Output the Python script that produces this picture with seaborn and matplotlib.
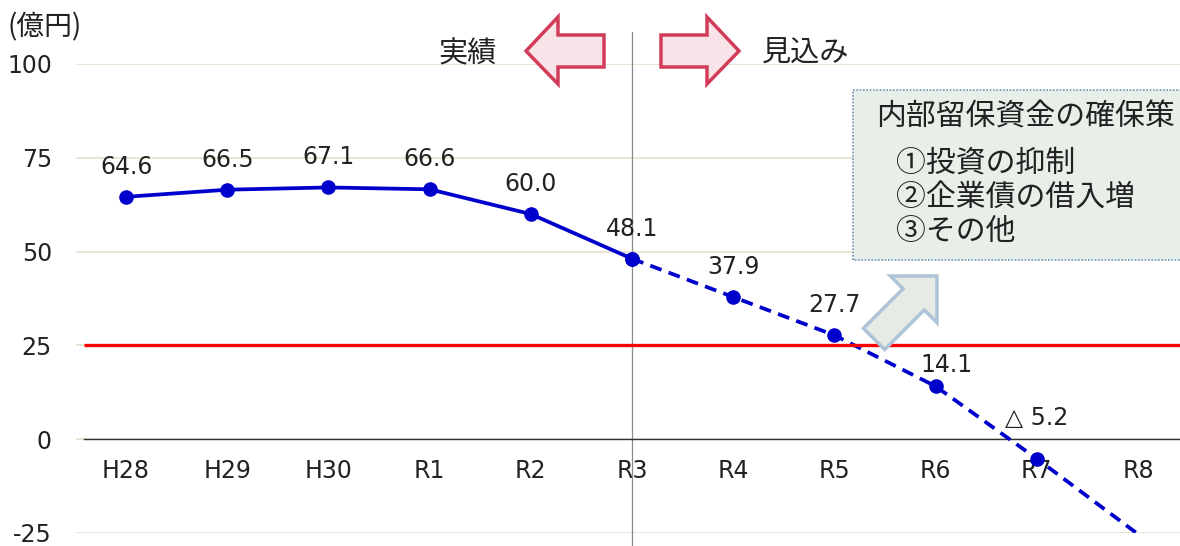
import numpy as np
import pandas as pd
import matplotlib
matplotlib.use("Agg")
import matplotlib.pyplot as plt
from matplotlib.patches import Polygon, Rectangle
from matplotlib.transforms import Affine2D
import seaborn as sns

# 内部留保資金の推移（億円）
fiscal_years = ["H28", "H29", "H30", "R1", "R2", "R3", "R4", "R5", "R6", "R7", "R8"]
retained_funds = [64.6, 66.5, 67.1, 66.6, 60.0, 48.1, 37.9, 27.7, 14.1, -5.2, -25.3]
last_actual = "R3"
reserve_floor = 25
y_ticks = [-25, 0, 25, 50, 75, 100]
unit_label = "(億円)"
actual_label = "実績"
forecast_label = "見込み"
box_title = "内部留保資金の確保策"
box_items = ["①投資の抑制", "②企業債の借入増", "③その他"]

sns.set_theme(style="white")
plt.rcParams["font.family"] = ["DejaVu Sans", "Noto Sans CJK JP"]
plt.rcParams["axes.unicode_minus"] = False
JP = ["Noto Sans CJK JP", "DejaVu Sans"]
TXT = "#222222"

W, H, DPI = 1180, 546, 100
fig = plt.figure(figsize=(W / DPI, H / DPI), dpi=DPI)
fig.patch.set_facecolor("white")
# pixel coordinates measured from the top-left corner of the figure
px = Affine2D().scale(1 / DPI, -1 / DPI).translate(0, H / DPI) + fig.dpi_scale_trans

ax_left, ax_top, ax_bottom = 75.5, 64, 533
ax = fig.add_axes([ax_left / W, (H - ax_bottom) / H, 1 - ax_left / W, (ax_bottom - ax_top) / H])
ax.set_facecolor("white")

df = pd.DataFrame({"year": fiscal_years, "value": retained_funds})
df["pos"] = np.arange(len(df))
split = fiscal_years.index(last_actual)
actual = df.iloc[: split + 1]
forecast = df.iloc[split:]

blue = "#0000cc"
sns.lineplot(data=actual, x="pos", y="value", ax=ax, color=blue, lw=2.7,
             marker="o", markersize=10.5, markeredgewidth=0, zorder=4)
sns.lineplot(data=forecast, x="pos", y="value", ax=ax, color=blue, lw=2.7,
             linestyle=(0, (3.2, 2.0)), marker="o", markersize=10.5, markeredgewidth=0,
             markevery=list(range(len(forecast) - 1)), zorder=4)

x_right = 10.415
ax.set_xlim(-0.5, x_right)
ax.set_ylim(y_ticks[0], y_ticks[-1])

# value labels
label_shift = {"R6": (11, 21), "R7": (0, 41)}
for year, value, pos in zip(df["year"], df["value"], df["pos"]):
    if value < y_ticks[0]:
        continue
    text = f"{value:.1f}" if value >= 0 else f"△ {abs(value):.1f}"
    dx, dy = label_shift.get(year, (0, 30))
    ax.annotate(text, (pos, value), xytext=(dx * 0.72, dy * 0.72), textcoords="offset points",
                ha="center", va="center", fontsize=17, color=TXT, zorder=6)

# reference line
ax.hlines(reserve_floor, -0.42, x_right, color="#ff0000", lw=2.4, zorder=5)

# actual / forecast divider
ax.axvline(split, ymin=-(H - ax_bottom) / (ax_bottom - ax_top),
           ymax=(ax_bottom - 32) / (ax_bottom - ax_top),
           color="#8a8a8a", lw=0.9, clip_on=False, zorder=3)

# axes styling
for side in ["left", "right", "top"]:
    ax.spines[side].set_visible(False)
ax.spines["bottom"].set_position(("data", 0))
ax.spines["bottom"].set_bounds(-0.42, x_right)
ax.spines["bottom"].set_color("#333333")
ax.spines["bottom"].set_linewidth(1.0)
ax.spines["bottom"].set_zorder(3)

ax.set_xticks(df["pos"], fiscal_years)
ax.set_yticks(y_ticks)
ax.tick_params(axis="x", length=0, pad=14, labelsize=17, labelcolor=TXT)
ax.tick_params(axis="y", length=0, pad=17, labelsize=17, labelcolor=TXT)
ax.set_xlabel("")
ax.set_ylabel("")
ax.grid(axis="y", color="#e4e4d0", lw=1.3)
ax.grid(axis="x", visible=False)
ax.set_axisbelow(True)

# unit label
fig.text(7, 27, unit_label, transform=px, ha="left", va="center", fontsize=20,
         family=JP, color=TXT)

# 実績 / 見込み arrows
arrow_edge, arrow_fill = "#d23c58", "#f8e4e8"
left_arrow = [(526, 51), (558, 17), (558, 35), (604, 35), (604, 67), (558, 67), (558, 84)]
right_arrow = [(739, 51), (707, 17), (707, 35), (661, 35), (661, 67), (707, 67), (707, 84)]
for pts in (left_arrow, right_arrow):
    fig.add_artist(Polygon(pts, closed=True, transform=px, facecolor=arrow_fill,
                           edgecolor=arrow_edge, lw=2.5, joinstyle="miter", zorder=5))
fig.text(468, 54, actual_label, transform=px, ha="center", va="center", fontsize=21,
         family=JP, color=TXT)
fig.text(806, 54, forecast_label, transform=px, ha="center", va="center", fontsize=21,
         family=JP, color=TXT)

# measures box
fig.add_artist(Rectangle((853, 90), 345, 170, transform=px, facecolor="#e8eee8",
                         edgecolor="#6f93b5", lw=1.2, linestyle=(0, (1, 1)), zorder=5))
fig.text(876, 117, box_title, transform=px, ha="left", va="center", fontsize=21.5,
         family=JP, color=TXT, zorder=6)
for i, item in enumerate(box_items):
    fig.text(896, 163 + i * 34.5, item, transform=px, ha="left", va="center", fontsize=21.5,
             family=JP, color=TXT, zorder=6)

# diagonal block arrow pointing to the box
tip = np.array([937.0, 276.0])
d = np.array([1.0, -1.0]) / np.sqrt(2)
n = np.array([1.0, 1.0]) / np.sqrt(2)
head_len, head_half, shaft_half, shaft_len = 33, 33, 15, 56
base = tip - head_len * d
tail = base - shaft_len * d
diag = [tip, base + head_half * n, base + shaft_half * n, tail + shaft_half * n,
        tail - shaft_half * n, base - shaft_half * n, base - head_half * n]
fig.add_artist(Polygon(diag, closed=True, transform=px, facecolor="#e6ebe6",
                       edgecolor="#aec4d6", lw=2.5, joinstyle="miter", zorder=7))

fig.savefig("out.png", dpi=DPI, facecolor="white")
